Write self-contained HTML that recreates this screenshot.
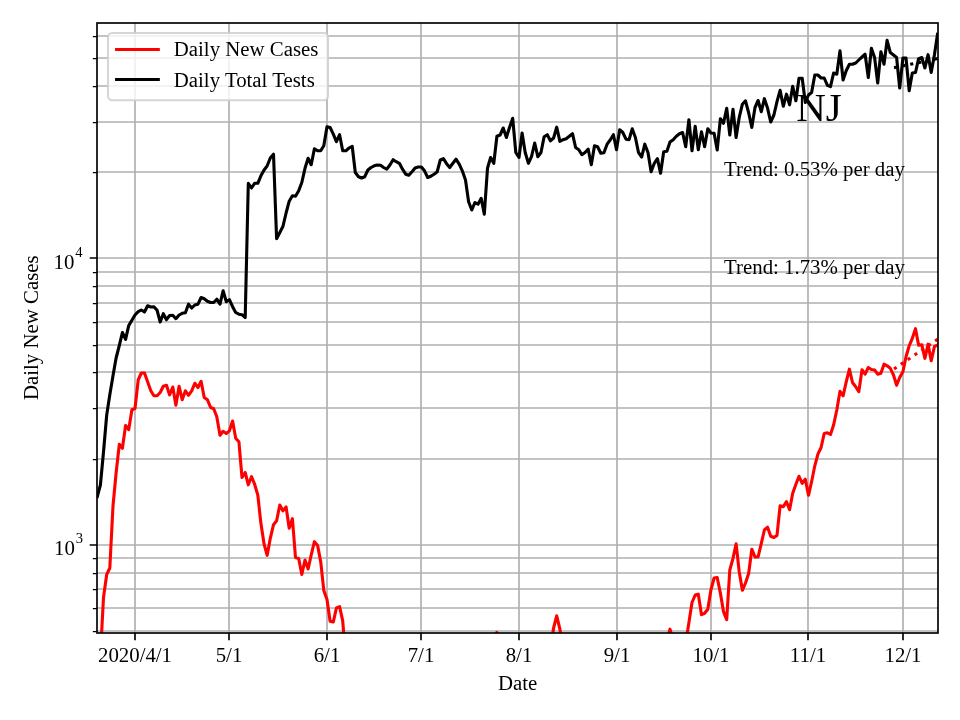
<!DOCTYPE html>
<html><head><meta charset="utf-8"><title>NJ Daily New Cases</title>
<style>html,body{margin:0;padding:0;background:#fff}svg{display:block}</style></head>
<body>
<svg width="960" height="720" viewBox="0 0 960 720" font-family="'Liberation Serif', 'Times New Roman', serif" font-size="20.83px">
<rect width="960" height="720" fill="#fff"/>
<path d="M135.00 23V633M229.00 23V633M327.00 23V633M421.00 23V633M519.00 23V633M617.00 23V633M711.00 23V633M808.00 23V633M903.00 23V633M97 631.00H938M97 608.00H938M97 589.00H938M97 573.00H938M97 558.00H938M97 545.00H938M97 459.00H938M97 408.00H938M97 372.00H938M97 345.00H938M97 322.00H938M97 303.00H938M97 286.00H938M97 272.00H938M97 258.00H938M97 172.00H938M97 122.00H938M97 86.00H938M97 58.00H938M97 36.00H938" stroke="#b0b0b0" stroke-width="1.67" fill="none"/>
<clipPath id="c"><rect x="97" y="23" width="841" height="610"/></clipPath>
<g clip-path="url(#c)" fill="none" stroke-linejoin="round" stroke-linecap="square">
<polyline points="100.4,656.0 103.5,597.5 106.7,574.5 109.8,568.0 113.0,506.0 116.1,473.0 119.3,444.3 122.4,448.3 125.6,425.5 128.7,429.7 131.9,409.8 135.0,408.5 138.2,380.0 141.3,373.0 144.5,373.0 147.6,381.7 150.8,390.8 153.9,395.8 157.1,395.8 160.2,392.5 163.3,386.3 166.5,385.3 169.6,395.0 172.8,387.0 175.9,405.3 179.1,386.3 182.2,399.7 185.4,390.8 188.5,395.3 191.7,390.8 194.8,383.3 198.0,387.5 201.1,381.3 204.2,397.5 207.4,399.7 210.6,407.5 213.7,408.7 216.8,416.7 220.0,435.3 223.1,431.3 226.3,433.5 229.4,430.8 232.6,421.0 235.7,438.3 238.9,441.7 242.0,477.5 245.2,472.5 248.3,484.8 251.5,476.7 254.6,484.2 257.8,495.0 260.9,523.3 264.1,544.2 267.2,555.3 270.3,538.3 273.5,524.7 276.6,520.8 279.8,505.0 282.9,510.8 286.1,507.0 289.2,528.3 292.4,518.7 295.5,557.5 298.7,558.5 301.8,574.5 305.0,560.0 308.1,569.0 311.2,555.0 314.4,541.7 317.6,545.4 320.7,561.7 323.8,590.4 327.0,599.5 330.1,621.3 333.3,622.0 336.4,608.0 339.6,606.7 342.7,620.8 345.9,661.0" stroke="#ff0000" stroke-width="3.1"/>
<polyline points="493.8,645.0 496.9,632.4 500.1,645.0" stroke="#ff0000" stroke-width="3.1"/>
<polyline points="550.4,650.0 553.6,628.0 556.7,615.8 559.9,629.2 563.0,650.0" stroke="#ff0000" stroke-width="3.1"/>
<polyline points="666.9,641.0 670.0,629.2 673.2,641.0" stroke="#ff0000" stroke-width="3.1"/>
<polyline points="685.7,643.0 688.9,622.8 692.0,602.5 695.2,595.0 698.3,594.2 701.5,614.7 704.6,613.3 707.8,609.2 710.9,590.0 714.1,578.0 717.2,577.5 720.4,593.3 723.5,611.7 726.7,619.7 729.8,570.0 733.0,558.3 736.1,543.7 739.2,571.7 742.4,590.3 745.5,583.0 748.7,573.3 751.8,549.2 755.0,557.0 758.1,557.0 761.3,543.3 764.4,530.0 767.6,527.2 770.7,536.2 773.9,537.5 777.0,535.4 780.1,505.8 783.3,506.7 786.5,501.7 789.6,509.7 792.7,493.3 795.9,484.2 799.0,476.3 802.2,483.3 805.3,479.2 808.5,495.3 811.6,481.7 814.8,465.8 817.9,454.2 821.1,447.5 824.2,433.5 827.4,432.8 830.5,434.5 833.6,425.0 836.8,410.0 840.0,391.3 843.1,395.8 846.2,382.0 849.4,369.2 852.5,382.5 855.7,386.7 858.8,391.7 862.0,369.7 865.1,374.2 868.3,367.5 871.4,369.5 874.6,370.0 877.7,374.2 880.9,373.3 884.0,364.2 887.1,365.8 890.3,368.3 893.5,375.0 896.6,385.3 899.7,377.5 902.9,371.7 906.0,356.7 909.2,345.8 912.3,338.3 915.5,328.7 918.6,345.3 921.8,344.7 924.9,358.3 928.1,344.2 931.2,360.8 934.4,346.7 937.5,345.0" stroke="#ff0000" stroke-width="3.1"/>
<polyline points="97.3,496.5 100.4,485.0 103.5,452.0 106.7,415.0 109.8,394.7 113.0,375.7 116.1,358.0 119.3,345.5 122.4,332.5 125.6,339.4 128.7,325.6 131.9,320.2 135.0,315.0 138.2,311.7 141.3,310.0 144.5,312.0 147.6,305.8 150.8,307.0 153.9,306.7 157.1,310.3 160.2,322.0 163.3,313.7 166.5,319.7 169.6,315.5 172.8,315.3 175.9,318.7 179.1,315.0 182.2,313.3 185.4,312.8 188.5,304.2 191.7,308.0 194.8,305.0 198.0,304.2 201.1,297.5 204.2,298.7 207.4,301.3 210.6,302.5 213.7,302.5 216.8,299.2 220.0,304.2 223.1,290.8 226.3,301.7 229.4,299.7 232.6,306.7 235.7,312.5 238.9,314.2 242.0,314.7 245.2,317.5 248.3,183.3 251.5,188.0 254.6,183.3 257.8,183.3 260.9,175.8 264.1,170.0 267.2,165.8 270.3,158.0 273.5,154.2 276.6,238.7 279.8,232.5 282.9,226.5 286.1,213.0 289.2,201.2 292.4,195.8 295.5,196.3 298.7,190.8 301.8,182.5 305.0,168.3 308.1,158.3 311.2,164.7 314.4,148.7 317.6,150.8 320.7,150.8 323.8,145.8 327.0,126.7 330.1,127.5 333.3,134.2 336.4,141.7 339.6,134.7 342.7,150.8 345.9,150.8 349.0,148.0 352.2,146.3 355.3,172.5 358.5,176.7 361.6,178.0 364.8,176.7 367.9,170.0 371.0,167.5 374.2,165.8 377.3,165.0 380.5,165.3 383.6,167.5 386.8,169.2 389.9,165.0 393.1,159.7 396.2,161.7 399.4,163.3 402.5,169.2 405.7,174.2 408.8,175.3 412.0,171.7 415.1,168.0 418.2,167.0 421.4,167.0 424.5,170.8 427.7,177.5 430.8,176.3 434.0,174.2 437.1,172.0 440.3,160.0 443.4,158.7 446.6,163.7 449.7,167.5 452.9,163.3 456.0,159.2 459.2,164.2 462.3,170.8 465.5,180.0 468.6,201.7 471.8,210.0 474.9,202.5 478.0,204.2 481.2,198.3 484.3,214.2 487.5,168.3 490.6,157.5 493.8,163.3 496.9,136.3 500.1,135.0 503.2,128.0 506.4,137.5 509.5,127.5 512.7,118.3 515.8,152.5 519.0,157.5 522.1,133.0 525.2,152.5 528.4,163.3 531.5,156.7 534.7,143.0 537.8,156.7 541.0,152.5 544.1,136.7 547.3,134.7 550.4,140.8 553.6,138.0 556.7,127.2 559.9,141.3 563.0,139.7 566.2,138.7 569.3,136.3 572.5,133.7 575.6,147.5 578.8,149.7 581.9,154.7 585.0,152.5 588.2,149.2 591.3,164.7 594.5,145.8 597.6,146.7 600.8,153.3 603.9,152.8 607.1,144.2 610.2,140.0 613.4,134.7 616.5,149.7 619.7,129.7 622.8,132.5 626.0,139.2 629.1,139.7 632.2,128.8 635.4,137.5 638.5,152.5 641.7,157.0 644.8,144.2 648.0,152.5 651.1,171.7 654.3,163.3 657.4,158.7 660.6,173.3 663.7,151.7 666.9,151.3 670.0,142.0 673.2,139.7 676.3,136.3 679.5,133.8 682.6,132.5 685.7,146.7 688.9,119.7 692.0,150.8 695.2,126.3 698.3,149.7 701.5,131.7 704.6,146.7 707.8,128.7 710.9,133.0 714.1,133.3 717.2,150.0 720.4,118.7 723.5,123.3 726.7,108.3 729.8,135.0 733.0,109.2 736.1,137.5 739.2,117.5 742.4,104.2 745.5,100.8 748.7,113.0 751.8,127.5 755.0,107.5 758.1,100.5 761.3,111.7 764.4,98.7 767.6,108.3 770.7,122.0 773.9,115.0 777.0,101.7 780.1,90.3 783.3,106.3 786.5,94.2 789.6,104.8 792.7,86.3 795.9,100.8 799.0,78.3 802.2,78.3 805.3,102.5 808.5,95.0 811.6,92.5 814.8,75.0 817.9,75.0 821.1,78.0 824.2,78.0 827.4,85.3 830.5,86.7 833.6,73.0 836.8,74.2 840.0,50.8 843.1,80.0 846.2,70.8 849.4,64.2 852.5,64.2 855.7,63.0 858.8,60.0 862.0,57.0 865.1,54.2 868.3,77.5 871.4,48.3 874.6,57.5 877.7,83.0 880.9,51.7 884.0,64.2 887.1,40.3 890.3,52.5 893.5,55.0 896.6,57.5 899.7,88.0 902.9,58.0 906.0,58.0 909.2,90.8 912.3,73.0 915.5,72.5 918.6,58.7 921.8,57.5 924.9,68.0 928.1,54.7 931.2,72.5 934.4,55.0 937.5,34.3" stroke="#000000" stroke-width="3.1"/>
<polyline points="894.0,369.0 937.6,339.4" stroke="#ff0000" stroke-width="3.1" stroke-dasharray="3.125 5.156" stroke-linecap="butt"/>
<polyline points="894.0,67.7 937.6,58.6" stroke="#000000" stroke-width="3.1" stroke-dasharray="3.125 5.156" stroke-linecap="butt"/>
</g>
<path d="M135.00 633v7.3M229.00 633v7.3M327.00 633v7.3M421.00 633v7.3M519.00 633v7.3M617.00 633v7.3M711.00 633v7.3M808.00 633v7.3M903.00 633v7.3M97 545.00h-7.3M97 258.00h-7.3" stroke="#000" stroke-width="1.67" fill="none"/>
<path d="M97 631.50h-4.17M97 608.50h-4.17M97 589.50h-4.17M97 573.50h-4.17M97 558.50h-4.17M97 459.50h-4.17M97 408.50h-4.17M97 372.50h-4.17M97 345.50h-4.17M97 322.50h-4.17M97 303.50h-4.17M97 286.50h-4.17M97 272.50h-4.17M97 172.50h-4.17M97 122.50h-4.17M97 86.50h-4.17M97 58.50h-4.17M97 36.50h-4.17" stroke="#000" stroke-width="1.25" fill="none"/>
<rect x="97" y="23" width="841" height="610" fill="none" stroke="#000" stroke-width="1.67"/>
<text x="135.00" y="662" text-anchor="middle">2020/4/1</text>
<text x="229.00" y="662" text-anchor="middle">5/1</text>
<text x="327.00" y="662" text-anchor="middle">6/1</text>
<text x="421.00" y="662" text-anchor="middle">7/1</text>
<text x="519.00" y="662" text-anchor="middle">8/1</text>
<text x="617.00" y="662" text-anchor="middle">9/1</text>
<text x="711.00" y="662" text-anchor="middle">10/1</text>
<text x="808.00" y="662" text-anchor="middle">11/1</text>
<text x="903.00" y="662" text-anchor="middle">12/1</text>
<text x="54.1" y="555.00">10<tspan font-size="14.58px" dy="-11.6" dx="0.8">3</tspan></text>
<text x="53.5" y="269.00">10<tspan font-size="14.58px" dy="-11.6" dx="0.8">4</tspan></text>
<text x="517.7" y="690" text-anchor="middle">Date</text>
<text transform="translate(38.2,327.7) rotate(-90)" text-anchor="middle">Daily New Cases</text>
<text x="819" y="121" text-anchor="middle" font-size="41px">NJ</text>
<text x="814.5" y="175.5" text-anchor="middle">Trend: 0.53% per day</text>
<text x="814.5" y="274.3" text-anchor="middle">Trend: 1.73% per day</text>
<rect x="108" y="33" width="220" height="67.2" rx="4.2" fill="#fff" fill-opacity="0.8" stroke="#ccc" stroke-opacity="0.8" stroke-width="2.08"/>
<path d="M116.6 49.45h41.7" stroke="#f00" stroke-width="3.1" stroke-linecap="square"/>
<path d="M116.6 79.45h41.7" stroke="#000" stroke-width="3.1" stroke-linecap="square"/>
<text x="173.8" y="56.3">Daily New Cases</text>
<text x="173.8" y="86.5">Daily Total Tests</text>
</svg>
</body></html>
